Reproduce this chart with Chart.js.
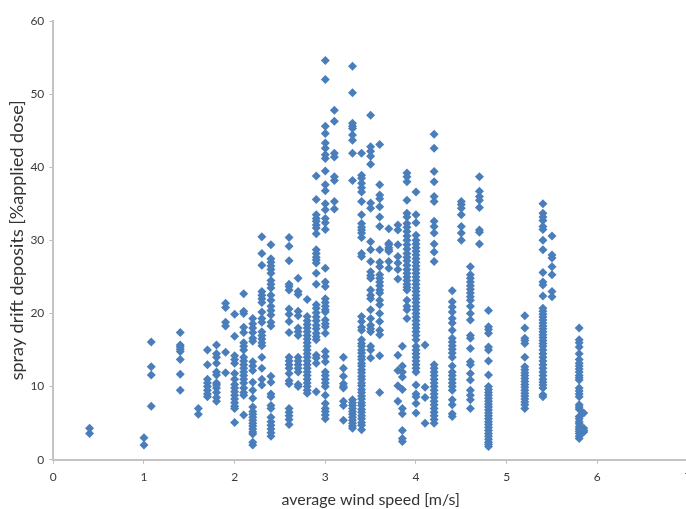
<!DOCTYPE html>
<html><head><meta charset="utf-8">
<script src="https://cdn.jsdelivr.net/npm/chart.js@4"></script>
<style>html,body{margin:0;padding:0;background:#fff;overflow:hidden;width:686px;height:509px}
#w{width:700px;height:509px;position:relative}</style></head>
<body><div id="w"><canvas id="c" width="700" height="509"></canvas></div>
<script>
const windSpeeds=[0.4,1.0,1.08,1.4,1.6,1.7,1.8,1.9,2.0,2.1,2.2,2.3,2.4,2.6,2.7,2.8,2.9,3.0,3.1,3.2,3.3,3.4,3.5,3.6,3.7,3.8,3.85,3.9,4.0,4.1,4.2,4.4,4.5,4.6,4.7,4.8,5.2,5.4,5.5,5.8,5.85];
const deposits=[
[4.3,3.6],
[3.0,2.0],
[16.1,12.7,11.6,7.3],
[17.4,15.7,15.4,15.1,14.8,13.7,11.7,9.5],
[7.0,6.2],
[15.0,13.0,11.0,10.5,10.0,9.5,9.0,8.6],
[15.7,14.5,14.0,13.2,12.0,11.6,10.5,10.2,9.8,9.2,8.5,8.0],
[21.4,20.8,18.8,18.3,14.7,11.9],
[19.9,16.9,14.2,13.7,13.2,11.8,11.0,10.3,9.8,9.3,8.8,8.3,7.8,7.3,7.0,5.1],
[22.7,20.3,20.0,18.1,17.4,16.0,15.5,15.0,14.0,13.5,13.0,12.5,12.0,11.5,11.0,10.5,9.8,9.2,8.8,6.1],
[19.3,18.6,18.0,17.4,16.6,16.2,13.4,12.8,12.2,10.6,9.5,8.4,7.2,6.6,6.2,5.8,5.4,5.0,4.6,4.2,3.8,3.5,2.4,2.0],
[30.5,28.2,26.6,23.0,22.5,22.0,21.5,20.2,19.3,18.8,17.5,17.0,16.5,16.0,15.6,14.0,12.5,11.0,10.2],
[29.4,27.5,27.0,26.5,26.0,25.5,24.5,24.0,23.5,22.5,21.8,21.0,20.4,19.8,18.8,18.3,11.4,10.6,9.0,8.6,7.4,7.0,5.8,5.2,4.7,4.2,3.7,3.2],
[30.4,29.2,27.2,24.0,23.7,23.2,20.6,19.9,18.9,17.4,14.0,13.5,13.0,12.5,11.8,10.8,10.4,7.0,6.5,6.0,5.5,4.8],
[24.8,23.0,22.6,20.3,19.7,18.0,17.5,17.0,14.0,13.5,13.0,12.5,12.0,10.3,10.0],
[21.9,19.6,19.0,18.5,18.0,17.5,17.0,16.5,16.0,15.5,15.0,14.5,14.0,13.5,13.0,12.5,12.0,11.5,11.0,10.5,10.0,9.5,9.1],
[38.8,35.6,33.5,33.0,32.6,32.1,31.7,30.9,28.7,28.2,27.7,27.3,26.9,25.5,24.0,21.2,20.7,20.1,19.5,19.0,18.4,17.9,17.3,16.8,16.4,14.3,13.9,13.2,9.3],
[54.6,52.0,45.6,44.6,43.3,42.6,41.7,41.2,39.5,37.6,36.8,35.0,34.2,33.0,32.4,31.5,26.2,24.3,23.7,22.0,21.5,21.0,20.5,20.2,19.1,18.6,18.2,17.3,14.8,14.1,13.4,12.0,11.5,11.0,10.5,10.0,8.8,7.7,7.0,6.6,6.1,5.6],
[47.8,46.3,41.9,41.4,38.7,38.2,35.3,34.3],
[14.0,12.5,11.4,10.4,10.0,9.8,8.0,7.4,5.4],
[53.8,50.2,46.0,45.6,45.3,44.4,43.7,41.9,38.2,8.2,7.8,7.4,7.0,6.6,6.2,5.8,5.4,5.0,4.6,4.3],
[41.9,38.9,38.5,37.8,37.2,36.6,35.3,33.5,32.3,31.8,31.4,31.0,30.4,28.2,27.8,19.6,18.9,18.1,17.7,16.4,15.9,15.5,15.0,14.6,14.1,13.7,13.2,12.8,12.3,11.9,11.4,11.0,10.5,10.1,9.6,9.2,8.7,8.3,7.8,7.4,6.9,6.5,6.0,5.6,5.1,4.7,4.1],
[47.1,42.8,42.2,41.5,40.4,35.1,34.4,29.8,28.7,27.1,25.7,25.2,24.8,23.2,22.5,22.0,20.5,19.3,18.4,17.9,17.5,15.5,15.0,13.9],
[43.1,37.6,36.2,35.7,34.6,33.2,31.9,28.7,27.0,26.4,25.3,24.8,24.3,23.8,23.2,22.8,21.8,21.2,20.0,18.9,17.7,17.1,14.2,9.2],
[31.6,29.6,29.0,28.5,29.4,28.7,27.1,26.2],
[32.1,31.4,29.4,27.8,26.9,26.0,24.7,14.3,12.2,10.1,8.0],
[15.5,12.8,12.0,11.3,9.6,7.0,6.3,4.0,2.9,2.5],
[39.2,38.7,38.0,35.5,33.7,33.2,32.3,31.8,31.2,30.6,30.0,29.4,28.8,28.2,27.7,27.2,26.6,26.0,25.5,25.0,24.5,24.0,23.6,23.2,21.8,21.0,20.5,19.3],
[36.6,33.5,32.4,30.7,30.0,29.5,29.0,28.5,28.0,27.5,27.0,26.5,26.0,25.5,25.0,24.5,24.0,23.5,23.0,22.5,22.0,21.5,21.0,20.5,20.0,19.5,19.0,18.5,18.0,17.5,17.0,16.4,15.5,15.0,14.5,14.0,13.5,13.0,12.5,12.0,10.2,9.0,8.6,7.7,6.4],
[15.7,9.9,8.5,5.0],
[44.5,42.6,39.4,38.0,36.0,35.3,32.6,31.9,31.0,29.5,28.4,27.1,13.0,12.5,12.0,11.5,11.0,10.5,10.0,9.5,9.0,8.5,8.0,7.5,7.0,6.5,6.0,5.5,5.0],
[23.1,21.6,20.9,20.2,19.3,18.7,17.7,16.6,16.1,15.6,15.1,14.6,14.0,12.8,12.0,11.5,11.0,10.5,10.0,9.5,8.2,7.5,6.3,5.9],
[35.3,34.9,34.4,33.5,31.9,31.0,30.0],
[26.4,25.3,24.8,24.3,23.8,23.3,22.8,22.3,21.8,21.0,20.0,19.1,17.0,16.6,15.2,13.4,13.0,11.8,10.9,9.5,8.8,8.2,7.0],
[38.7,36.7,36.0,35.5,34.5,31.4,31.1,29.5],
[20.4,18.2,17.8,17.3,15.4,15.0,13.5,11.6,10.0,9.6,9.2,8.8,8.4,8.0,7.6,7.2,6.8,6.4,6.0,5.6,5.2,4.8,4.4,4.0,3.6,3.2,2.8,2.4,2.1,1.8],
[19.7,18.0,16.6,16.3,15.9,14.0,12.7,12.3,11.9,11.5,11.1,10.7,10.3,9.9,9.5,9.1,8.7,8.3,7.9,7.5,7.0],
[35.0,33.7,33.2,32.7,31.9,31.5,30.0,28.7,25.6,24.3,23.9,22.4,20.7,20.3,19.9,19.5,19.1,18.7,18.3,17.9,17.5,17.1,16.7,16.3,15.9,15.5,15.0,14.5,14.0,13.5,13.0,12.5,12.0,11.5,11.0,10.6,10.2,9.8,8.9,8.6],
[30.6,28.0,27.6,26.4,25.3,23.0,22.3],
[18.0,16.4,16.0,15.4,14.5,13.7,13.2,12.8,12.4,12.0,11.5,11.2,10.9,9.8,9.4,9.0,8.6,7.5,7.2,6.9,5.9,5.6,5.2,4.9,4.5,4.2,3.9,3.6,3.2,2.9],
[6.4,4.3,4.0,3.8]
];
const xTicks=[0,1,2,3,4,5,6,7];
const yTicks=[0,10,20,30,40,50,60];
const xLabel='average wind speed [m/s]';
const yLabel='spray drift deposits [%applied dose]';
const points=[];
windSpeeds.forEach((x,i)=>deposits[i].forEach(y=>points.push({x,y})));
const fontFamily='Lato,"Open Sans",sans-serif';
new Chart(document.getElementById('c'),{
 type:'scatter',
 data:{datasets:[{data:points,backgroundColor:'#4a7ebb',borderColor:'#4a7ebb',borderWidth:0,pointStyle:'rectRot',pointRadius:4.5,pointHoverRadius:4.5}]},
 options:{
  responsive:false,animation:false,
  layout:{padding:{top:21,right:12,left:0,bottom:0}},
  plugins:{legend:{display:false},tooltip:{enabled:false},title:{display:false}},
  scales:{
   x:{type:'linear',min:0,max:7,afterFit(s){s.height=49.3},afterBuildTicks(s){s.ticks=xTicks.map(v=>({value:v}))},
    grid:{drawOnChartArea:false,drawTicks:true,tickLength:4,color:'#bdbdbd',lineWidth:1},
    border:{color:'#c4c4c4',width:2},
    ticks:{color:'#3a3a3a',font:{family:fontFamily,size:12},padding:6,maxRotation:0,autoSkip:false},
    title:{display:true,text:xLabel,color:'#333',font:{family:fontFamily,size:16},padding:{top:0,bottom:0}}},
   y:{type:'linear',min:0,max:60,afterFit(s){s.width=53.3},afterBuildTicks(s){s.ticks=yTicks.map(v=>({value:v}))},
    grid:{drawOnChartArea:false,drawTicks:true,tickLength:4,color:'#bdbdbd',lineWidth:1},
    border:{color:'#c4c4c4',width:2},
    ticks:{color:'#3a3a3a',font:{family:fontFamily,size:12},padding:5,autoSkip:false},
    title:{display:true,text:yLabel,color:'#333',font:{family:fontFamily,size:18},padding:{top:6,bottom:0}}}
  }
 }
});
</script></body></html>
